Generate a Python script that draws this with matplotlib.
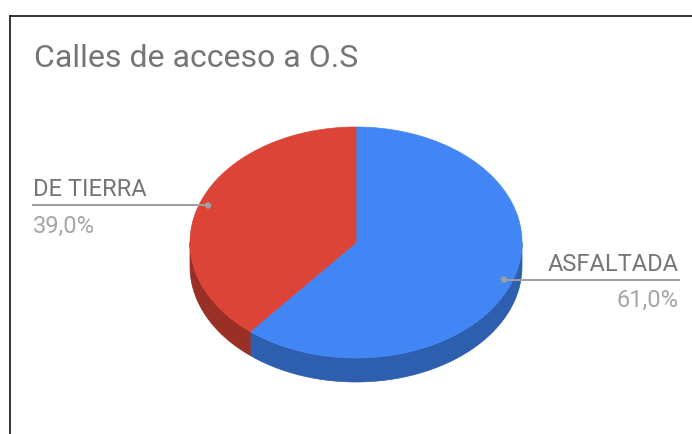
import numpy as np
import matplotlib
matplotlib.use("Agg")
import matplotlib.pyplot as plt
from matplotlib.patches import Polygon, Circle

plt.rcParams["font.family"] = ["Roboto", "DejaVu Sans"]

title = "Calles de acceso a O.S"
labels = ["ASFALTADA", "DE TIERRA"]
values = [61.0, 39.0]
top_colors = ["#4285f4", "#db4437"]
side_colors = ["#2e5eae", "#9a2f26"]

W, H = 692, 434
cx, cy = 356, 242.5
rx, ry = 166, 115.5
depth = 24


def ell(theta, dy=0.0):
    # theta in degrees, clockwise from 12 o'clock, screen coords (y down)
    t = np.radians(theta)
    return np.column_stack([cx + rx * np.sin(t), cy - ry * np.cos(t) + dy])


fig = plt.figure(figsize=(W / 100, H / 100), dpi=100)
ax = fig.add_axes([0, 0, 1, 1])
ax.set_xlim(0, W)
ax.set_ylim(H, 0)
ax.axis("off")

total = sum(values)
bounds = np.concatenate([[0], np.cumsum(values) / total * 360])

# side walls (front half only)
for i in range(len(values)):
    a = max(bounds[i], 90)
    b = min(bounds[i + 1], 270)
    if b <= a:
        continue
    th = np.linspace(a, b, 120)
    pts = np.vstack([ell(th), ell(th[::-1], depth)])
    ax.add_patch(Polygon(pts, closed=True, fc=side_colors[i], ec=side_colors[i], lw=0.5))

# top face
for i in range(len(values)):
    th = np.linspace(bounds[i], bounds[i + 1], 200)
    pts = np.vstack([[cx, cy], ell(th)])
    ax.add_patch(Polygon(pts, closed=True, fc=top_colors[i], ec=top_colors[i], lw=0.5))

# labels with leader lines
for i in range(len(values)):
    mid = (bounds[i] + bounds[i + 1]) / 2
    t = np.radians(mid)
    dx = cx + 0.947 * rx * np.sin(t)
    dy = cy - 0.947 * ry * np.cos(t)
    pct = f"{values[i] / total * 100:.1f}%".replace(".", ",")
    if np.sin(t) > 0:
        ax.plot([dx, 680], [dy, dy], color="#9e9e9e", lw=1.4, solid_capstyle="butt")
        ax.text(679, dy - 9, labels[i], ha="right", va="baseline", fontsize=17, color="#757575")
        ax.text(679, dy + 27, pct, ha="right", va="baseline", fontsize=17, color="#a6a6a6")
    else:
        ax.plot([32, dx], [dy, dy], color="#9e9e9e", lw=1.4, solid_capstyle="butt")
        ax.text(33, dy - 9, labels[i], ha="left", va="baseline", fontsize=17, color="#757575")
        ax.text(33, dy + 28, pct, ha="left", va="baseline", fontsize=17, color="#a6a6a6")
    ax.add_patch(Circle((dx, dy), 3.2, fc="#9e9e9e", ec="none", zorder=5))

ax.text(34, 67, title, ha="left", va="baseline", fontsize=23, color="#757575")

# frame
ax.plot([9.5, W], [15.5, 15.5], color="#111111", lw=1.2, solid_capstyle="butt")
ax.plot([9.5, 9.5], [15, H], color="#111111", lw=1.2, solid_capstyle="butt")

fig.savefig("out.png", dpi=100)
